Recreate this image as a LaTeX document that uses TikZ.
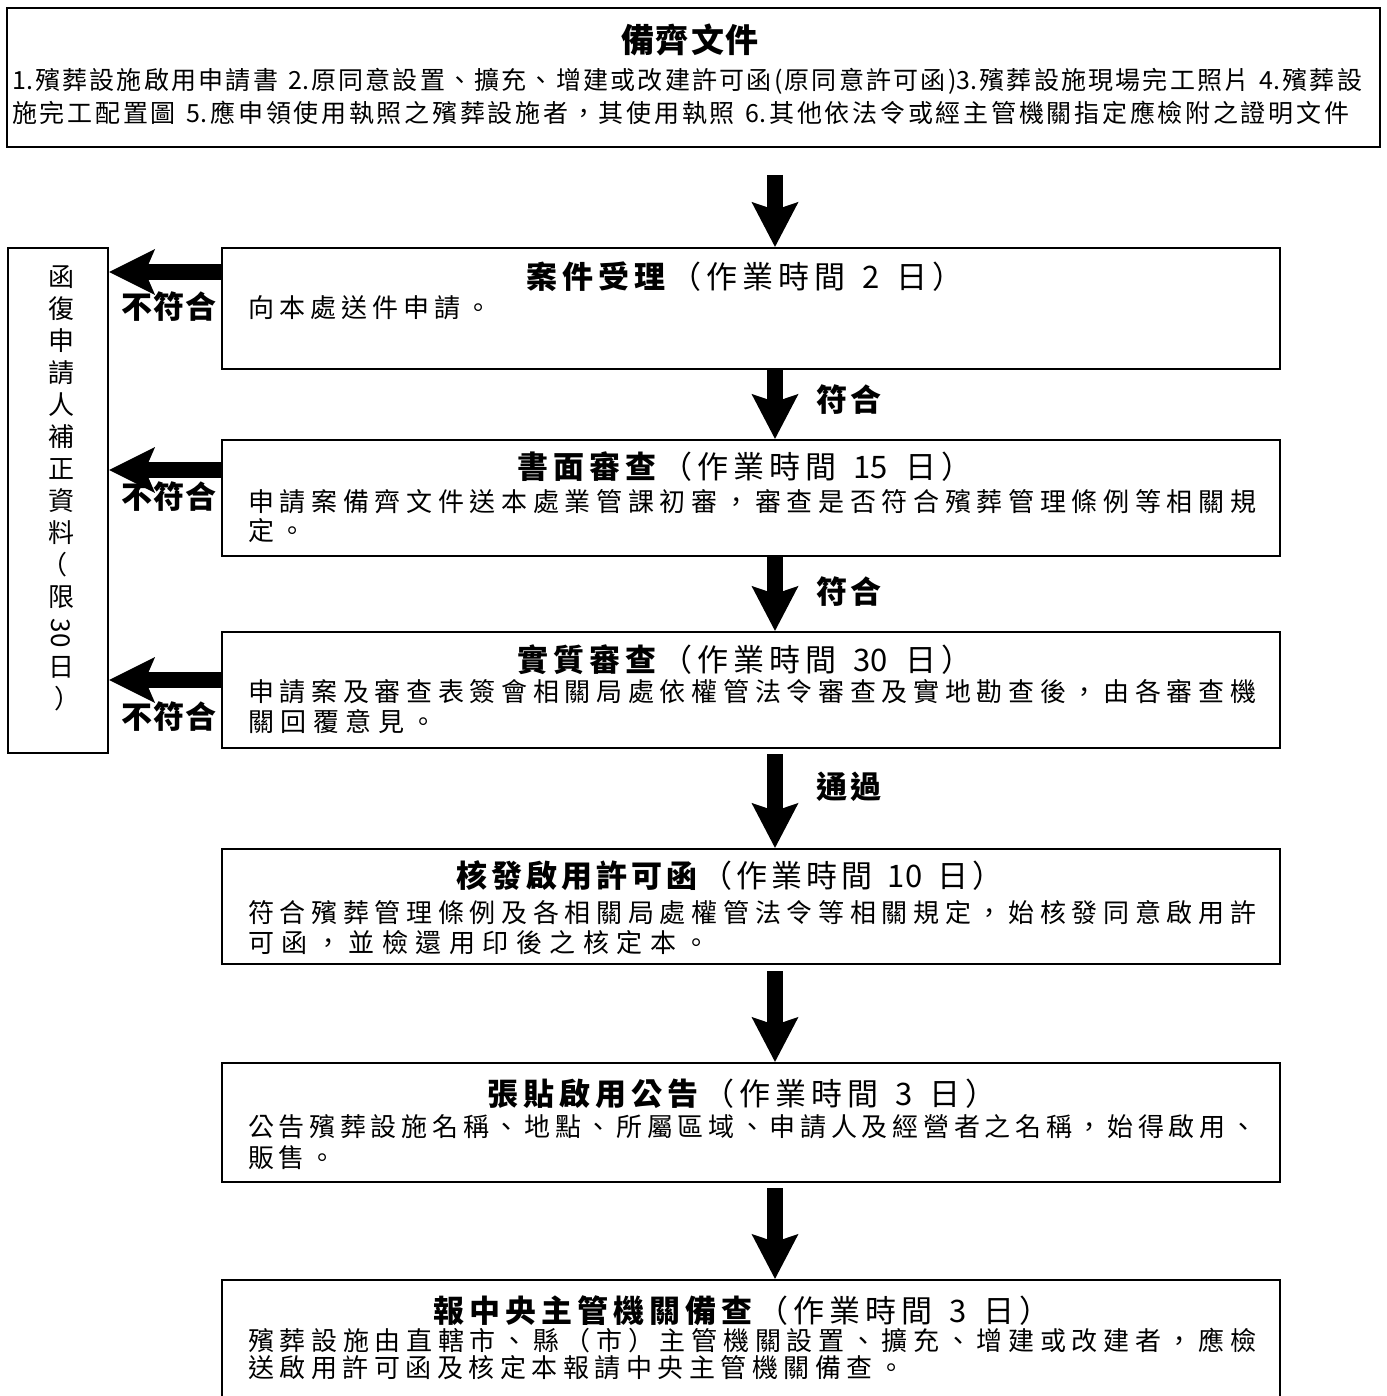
\documentclass[tikz,border=0pt]{standalone}
\usepackage{fontspec}
\setmainfont{Noto Sans CJK TC}
\usetikzlibrary{arrows.meta}
\ExplSyntaxOn
\NewDocumentCommand\spreadto{mm}{\hbox~to~#1{\tl_map_inline:nn{#2}{##1\hfil}\unskip}}
\NewDocumentCommand\trackby{mm}{\hbox{\tl_map_inline:nn{#2}{##1\hskip#1\relax}\unskip}}
\ExplSyntaxOff
\newcommand\bodyfont{\fontsize{26pt}{30pt}\selectfont}
\newcommand\topfont{\fontsize{25pt}{29pt}\selectfont}
\newcommand\titlefont{\fontsize{31pt}{35pt}\selectfont}
\newcommand\labfont{\fontsize{31pt}{35pt}\selectfont\bfseries}
\begin{document}
\begin{tikzpicture}[x=1pt,y=-1pt,
  box/.style={draw,line width=2.2pt,rectangle,inner sep=0pt},
  line/.style={anchor=west,inner sep=0pt,font=\bodyfont},
  title/.style={inner sep=0pt,font=\titlefont},
  vtext/.style={inner sep=0pt,font=\bodyfont},
  lab/.style={inner sep=0pt,font=\labfont},
  downarrow/.style={line width=16pt,-{Stealth[length=45pt,width=47pt,inset=8pt,line width=0pt]}},
  leftarrow/.style={line width=16pt,-{Stealth[length=46pt,width=46pt,inset=10pt,line width=0pt]}}]
\useasboundingbox (0,0) rectangle (1386,1396);
\fill[white] (0,0) rectangle (1386,1396);

% top box
\node[box,minimum width=1373pt,minimum height=139pt] (top) at (693.5,77.5) {};
\node[inner sep=0pt,font=\fontsize{33pt}{37pt}\selectfont\bfseries] (toptitle) at (690,40) {\trackby{2pt}{備齊文件}};
\node[anchor=west,inner sep=0pt,font=\topfont] (topl1) at (12,81) {\spreadto{1350pt}{{1.}殯葬設施啟用申請書~{2.}原同意設置、擴充、增建或改建許可函{(}原同意許可函{)3.}殯葬設施現場完工照片~{4.}殯葬設}};
\node[anchor=west,inner sep=0pt,font=\topfont] (topl2) at (12,113) {\spreadto{1337pt}{施完工配置圖~{5.}應申領使用執照之殯葬設施者，其使用執照~{6.}其他依法令或經主管機關指定應檢附之證明文件}};

% left box
\node[box,minimum width=100pt,minimum height=505pt] (lbox) at (58,500.5) {};
\foreach \c [count=\i from 0] in {函,復,申,請,人,補,正,資,料}
  \node[vtext] (v\i) at (61,277+32*\i) {\c};
\node[vtext] (v9) at (54,565) {（};
\node[vtext] (v10) at (61,597) {限};
\node[vtext] (v11) at (61,633) {\rotatebox{-90}{30}};
\node[vtext] (v12) at (61,667) {日};
\node[vtext] (v13) at (67,699) {）};

% main boxes
\node[box,minimum width=1058pt,minimum height=121pt] (b1) at (751,308.5) {};
\node[box,minimum width=1058pt,minimum height=116pt] (b2) at (751,498) {};
\node[box,minimum width=1058pt,minimum height=116pt] (b3) at (751,690) {};
\node[box,minimum width=1058pt,minimum height=115pt] (b4) at (751,906.5) {};
\node[box,minimum width=1058pt,minimum height=119pt] (b5) at (751,1122.5) {};
\node[box,minimum width=1058pt,minimum height=130pt] (b6) at (751,1345) {};

% titles
\node[title] (t1) at (745,277) {{\bfseries\trackby{5pt}{案件受理}}\hspace{5pt}\trackby{5pt}{（作業時間~2~日）}};
\node[title] (t2) at (745,467) {{\bfseries\trackby{5pt}{書面審查}}\hspace{5pt}\trackby{5pt}{（作業時間~{15}~日）}};
\node[title] (t3) at (745,660) {{\bfseries\trackby{5pt}{實質審查}}\hspace{5pt}\trackby{5pt}{（作業時間~{30}~日）}};
\node[title] (t4) at (730,876) {{\bfseries\trackby{4pt}{核發啟用許可函}}\hspace{4pt}\trackby{4pt}{（作業時間~{10}~日）}};
\node[title] (t5) at (742,1094) {{\bfseries\trackby{5pt}{張貼啟用公告}}\hspace{5pt}\trackby{5pt}{（作業時間~3~日）}};
\node[title] (t6) at (742,1311) {{\bfseries\trackby{5pt}{報中央主管機關備查}}\hspace{5pt}\trackby{5pt}{（作業時間~3~日）}};

% body lines
\node[line] (b1l1) at (248,308) {\trackby{5pt}{向本處送件申請。}};
\node[line] (b2l1) at (248,502) {\spreadto{1008pt}{申請案備齊文件送本處業管課初審，審查是否符合殯葬管理條例等相關規}};
\node[line] (b2l2) at (248,531) {\trackby{5.6pt}{定。}};
\node[line] (b3l1) at (248,692) {\spreadto{1008pt}{申請案及審查表簽會相關局處依權管法令審查及實地勘查後，由各審查機}};
\node[line] (b3l2) at (248,722) {\trackby{6.5pt}{關回覆意見。}};
\node[line] (b4l1) at (248,913) {\spreadto{1008pt}{符合殯葬管理條例及各相關局處權管法令等相關規定，始核發同意啟用許}};
\node[line] (b4l2) at (248,943) {\trackby{7.5pt}{可函，並檢還用印後之核定本。}};
\node[line] (b5l1) at (248,1127) {\spreadto{1008pt}{公告殯葬設施名稱、地點、所屬區域、申請人及經營者之名稱，始得啟用、}};
\node[line] (b5l2) at (248,1158) {\trackby{4.7pt}{販售。}};
\node[line] (b6l1) at (248,1341) {\spreadto{1008pt}{殯葬設施由直轄市、縣（市）主管機關設置、擴充、增建或改建者，應檢}};
\node[line] (b6l2) at (248,1368) {\trackby{5.5pt}{送啟用許可函及核定本報請中央主管機關備查。}};

% down arrows
\coordinate (a0) at (775,175);
\draw[downarrow] (a0) -- (b1.north -| a0);
\draw[downarrow] (b1.south -| a0) -- (b2.north -| a0);
\draw[downarrow] (b2.south -| a0) -- (b3.north -| a0);
\path (b3.south -| a0) ++(0,5) coordinate (s4);
\draw[downarrow] (s4) -- (b4.north -| a0);
\path (b4.south -| a0) ++(0,6) coordinate (s5);
\draw[downarrow] (s5) -- (b5.north -| a0);
\path (b5.south -| a0) ++(0,5) coordinate (s6);
\draw[downarrow] (s6) -- (b6.north -| a0);

% left arrows
\coordinate (ly1) at (0,272);
\coordinate (ly2) at (0,470);
\coordinate (ly3) at (0,680);
\draw[leftarrow] (b1.west |- ly1) -- (lbox.east |- ly1);
\draw[leftarrow] (b2.west |- ly2) -- (lbox.east |- ly2);
\draw[leftarrow] (b3.west |- ly3) -- (lbox.east |- ly3);

% labels
\node[lab] (n1) at (169,307) {\trackby{1pt}{不符合}};
\node[lab] (n2) at (169,497) {\trackby{1pt}{不符合}};
\node[lab] (n3) at (169,717) {\trackby{1pt}{不符合}};
\node[lab] (p1) at (849,400) {\trackby{3pt}{符合}};
\node[lab] (p2) at (849,592) {\trackby{3pt}{符合}};
\node[lab] (p3) at (849,787) {\trackby{3pt}{通過}};
\end{tikzpicture}
\end{document}
